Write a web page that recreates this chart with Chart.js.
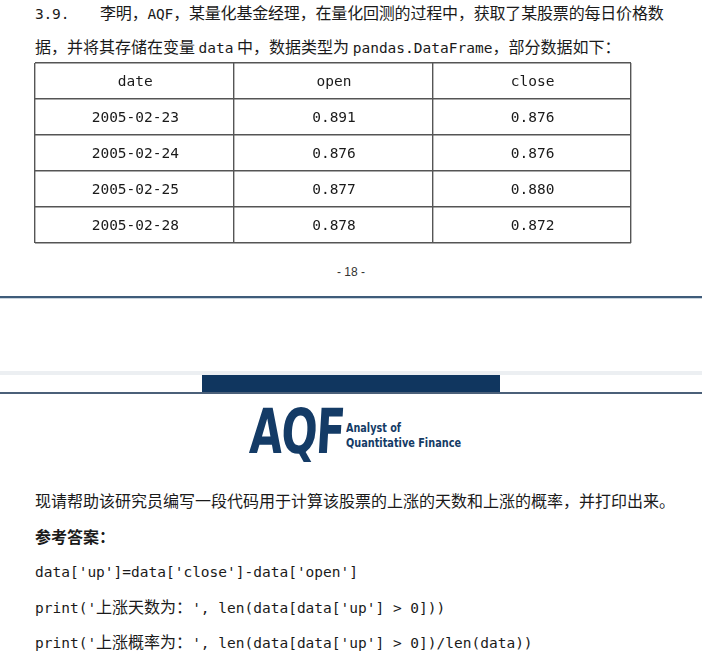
<!DOCTYPE html>
<html>
<head>
<meta charset="utf-8">
<script src="https://cdn.jsdelivr.net/npm/chart.js@4/dist/chart.umd.min.js"></script>
<style>
  html, body { margin: 0; padding: 0; background: #fff; }
  body { width: 702px; height: 655px; position: relative; overflow: hidden;
         font-family: "Noto Sans CJK SC", "DejaVu Sans", sans-serif; color: #1a1a1a; }
  .ln { position: absolute; left: 35px; height: 22px; line-height: 22px; font-size: 16px; white-space: pre; }
  .mono { font-family: "DejaVu Sans Mono", monospace; font-size: 14.5px; }
  .code { font-family: "DejaVu Sans Mono", "Noto Sans CJK SC", monospace; font-size: 14.5px; }
  .code .cj { font-family: "Noto Sans CJK SC"; font-size: 16px; }
  #tbl { position: absolute; left: 34px; top: 62px; width: 598px; height: 182px; }
  .fit { display: inline-block; transform-origin: 0 50%; white-space: pre; }
</style>
</head>
<body>
<div class="ln" style="top:1px;letter-spacing:-0.18px"><span class="mono" style="display:inline-block;width:65px">3.9.</span>李明，<span class="mono">AQF</span>，某量化基金经理，在量化回测的过程中，获取了某股票的每日价格数</div>
<div class="ln" style="top:35px">据，并将其存储在变量 <span class="mono">data</span> 中，数据类型为 <span class="mono">pandas.DataFrame</span>，部分数据如下：</div>

<div id="tbl"><canvas id="chart"></canvas></div>

<div style="position:absolute;left:0;width:702px;top:265px;text-align:center;font:12px 'Liberation Sans',sans-serif;color:#333">- 18 -</div>

<div style="position:absolute;left:0;top:296px;width:702px;height:2px;background:#3f5c7a"></div>
<div style="position:absolute;left:0;top:298px;width:702px;height:1px;background:#c9d4de"></div>
<div style="position:absolute;left:0;top:371px;width:702px;height:4px;background:#eceff2"></div>
<div style="position:absolute;left:202px;top:375px;width:298px;height:18px;background:#10365f"></div>
<div style="position:absolute;left:0;top:392px;width:702px;height:2px;background:#4b6079"></div>

<div style="position:absolute;left:250px;top:402px;height:60px;">
  <span id="logo" class="fit" data-w="94" style="font:bold 62px 'DejaVu Sans',sans-serif;color:#143b66;line-height:60px;letter-spacing:-2px">AQF</span>
</div>
<div style="position:absolute;left:346px;top:420px;line-height:15px;color:#143b66;font:bold 13px 'DejaVu Sans Condensed','DejaVu Sans',sans-serif">
  <span class="fit" data-w="55">Analyst of</span><br>
  <span class="fit" data-w="115">Quantitative Finance</span>
</div>

<div class="ln" style="top:489px">现请帮助该研究员编写一段代码用于计算该股票的上涨的天数和上涨的概率，并打印出来。</div>
<div class="ln" style="top:525px;font-weight:bold">参考答案：</div>
<div class="ln code" style="top:561px">data['up']=data['close']-data['open']</div>
<div class="ln code" style="top:595px">print('<span class="cj">上涨天数为：</span>', len(data[data['up'] &gt; 0]))</div>
<div class="ln code" style="top:630px">print('<span class="cj">上涨概率为：</span>', len(data[data['up'] &gt; 0])/len(data))</div>

<script>
const columns = ['date', 'open', 'close'];
const dates = ['2005-02-23', '2005-02-24', '2005-02-25', '2005-02-28'];
const openPrices = [0.891, 0.876, 0.877, 0.878];
const closePrices = [0.876, 0.876, 0.880, 0.872];

// header row + one row per date
const rowKeys = ['header'].concat(dates);
const cells = [columns].concat(dates.map((d, i) =>
  [d, openPrices[i].toFixed(3), closePrices[i].toFixed(3)]));

const cellText = {
  id: 'cellText',
  afterDraw(chart) {
    const ctx = chart.ctx;
    const xs = chart.scales.x, ys = chart.scales.y;
    ctx.save();
    ctx.font = '14.5px "DejaVu Sans Mono", monospace';
    ctx.fillStyle = '#1a1a1a';
    ctx.textAlign = 'center';
    ctx.textBaseline = 'middle';
    cells.forEach((row, r) => {
      row.forEach((txt, c) => {
        ctx.fillText(txt, xs.getPixelForValue(c) + 1, ys.getPixelForValue(r) + 1);
      });
    });
    ctx.restore();
  }
};

const gridOpts = { offset: true, color: '#555', lineWidth: 1.4, drawTicks: false };

new Chart(document.getElementById('chart'), {
  type: 'bar',
  data: { labels: columns, datasets: [{ data: [] }] },
  options: {
    responsive: true,
    maintainAspectRatio: false,
    animation: false,
    layout: { padding: 1 },
    plugins: { legend: { display: false }, tooltip: { enabled: false } },
    scales: {
      x: { type: 'category', offset: true, grid: gridOpts, border: { display: false }, ticks: { display: false } },
      y: { type: 'category', labels: rowKeys, offset: true, grid: gridOpts, border: { display: false }, ticks: { display: false } }
    }
  },
  plugins: [cellText]
});

// squeeze logo text to the widths seen in the picture
document.querySelectorAll('.fit').forEach(el => {
  const w = el.getBoundingClientRect().width;
  el.style.transform = 'scaleX(' + (+el.dataset.w / w) + ')' + (el.id === 'logo' ? ' skewX(-5deg)' : '');
});
</script>
</body>
</html>
